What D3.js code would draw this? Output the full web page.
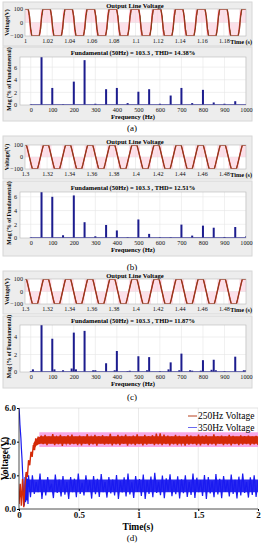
<!DOCTYPE html>
<html>
<head>
<meta charset="utf-8">
<script src="https://cdn.jsdelivr.net/npm/d3@7"></script>
<style>
  body { margin: 0; background: #fff; }
  svg { display: block; font-family: "Liberation Serif", "DejaVu Serif", serif; }
</style>
</head>
<body>
<div id="chart"></div>
<script>
// ---------- data ----------
const timeTicksA  = [1, 1.02, 1.04, 1.06, 1.08, 1.1, 1.12, 1.14, 1.16, 1.18];
const timeTicksBC = [1.3, 1.32, 1.34, 1.36, 1.38, 1.4, 1.42, 1.44, 1.46, 1.48];
const voltTicks   = [-100, 0, 100];

// one 20 ms period of the line voltage (phase 0..1), steady state
const cyclePhaseA = [0, 0.15, 0.19, 0.21, 0.23, 0.26, 0.28, 0.3, 0.65, 0.69, 0.71, 0.73, 0.76, 0.78, 0.8, 1];
const cycleVoltA  = [100, 100, 55, 50, 0, -50, -55, -100, -100, -55, -50, 0, 50, 55, 100, 100];
const refPhaseA   = [0, 0.14, 0.18, 0.22, 0.26, 0.31, 0.64, 0.68, 0.72, 0.76, 0.81, 1];
const refVoltA    = [100, 100, 70, 10, -60, -100, -100, -70, -10, 60, 100, 100];
const cyclePhaseBC = [0, 0.065, 0.12, 0.2, 0.28, 0.335, 0.565, 0.62, 0.7, 0.78, 0.835, 1];
const cycleVoltBC  = [100, 100, 62, 0, -62, -100, -100, -62, 0, 62, 100, 100];
const pulsePhase = [0, 0.2, 0.2, 0.7, 0.7, 1];
const pulseVolt  = [100, 100, -100, -100, 100, 100];
const periods = 10;

// harmonic spectra (% of fundamental)
const harmonicFreq = [0, 50, 100, 150, 200, 250, 300, 350, 400, 450, 500, 550, 600, 650, 700, 750, 800, 850, 900, 950, 1000];
const magA = [0.1, 100, 2.7, 0.1, 3.7, 7.1, 0.2, 2.5, 2.7, 0.3, 2.1, 2.5, 0.2, 1.5, 2.7, 0.3, 2.4, 0.4, 0.2, 0.6, 0.1];
const magB = [0.1, 100, 6.0, 0.4, 6.2, 2.3, 0.25, 1.9, 1.1, 0.1, 2.7, 0.6, 0.1, 0.1, 1.95, 0.35, 1.8, 1.5, 0.15, 1.6, 0.25];
const magC = [0.1, 100, 3.8, 0.2, 4.5, 4.7, 0.2, 1.0, 2.4, 0.1, 1.8, 1.7, 0.1, 1.1, 2.1, 0.15, 1.35, 1.4, 0.1, 1.75, 0.2];
const interFreqC = [10, 110, 190, 210, 290, 390, 460, 540, 640, 690, 740, 790, 840, 860, 990];
const interMagC  = [0.3, 0.3, 0.4, 0.3, 0.2, 0.2, 0.15, 0.2, 0.3, 0.2, 0.2, 0.15, 0.25, 0.2, 0.2];
const freqTicks = [0, 100, 200, 300, 400, 500, 600, 700, 800, 900, 1000];
const magTicksAB = [0, 2, 4, 6];
const magTicksC  = [0, 2, 4];
const thdLabels = ["14.38%", "12.51%", "11.87%"];

// (d) harmonic voltages vs time
const dTimeTicks = [0, 0.5, 1, 1.5, 2];
const dTimeLabels = ["0", "0.5", "1", "1.5", "2"];
const dVoltTicks = [0, 2, 4, 6];
const red250T = [0, 0.01, 0.02, 0.03, 0.04, 0.05, 0.06, 0.07, 0.08, 0.09, 0.1, 0.11, 0.12, 0.13, 0.14, 0.15, 0.16, 0.17];
const red250V = [0.3, 1.5, 0.2, 1.8, 0.1, 1.4, 2.2, 1.9, 2.9, 2.6, 3.4, 3.1, 3.8, 3.5, 4.2, 3.8, 4.3, 3.9];
const red250Steady = [
  4.35, 3.85, 4.4, 3.8, 4.3, 3.9, 4.45, 3.8, 4.25, 3.85, 4.4, 3.75, 4.3, 3.9, 4.38, 3.82, 4.42, 3.86, 4.28, 3.8,
  4.36, 3.78, 4.3, 3.88, 4.44, 3.8, 4.26, 3.84, 4.4, 3.76, 4.32, 3.9, 4.38, 3.82, 4.3, 3.86, 4.46, 3.78, 4.28, 3.84,
  4.4, 3.8, 4.34, 3.88, 4.42, 3.76, 4.3, 3.84, 4.36, 3.8, 4.44, 3.86, 4.28, 3.78, 4.4, 3.82, 4.32, 3.88, 4.38, 3.8,
  4.48, 3.84, 4.5, 3.8, 4.42, 3.86, 4.36, 3.78, 4.3, 3.84, 4.4, 3.8, 4.34, 3.88, 4.28, 3.76, 4.4, 3.82, 4.36, 3.86,
  4.3, 3.8, 4.42, 3.78, 4.34, 3.86, 4.38, 3.8, 4.28, 3.84, 4.44, 3.78, 4.32, 3.88, 4.36, 3.8, 4.3, 3.84, 4.4, 3.78,
  4.34, 3.86, 4.28, 3.8, 4.38, 3.82, 4.32, 3.86, 4.36, 3.8, 4.3, 3.84, 4.34, 3.8
];
const red250CoreT  = [0.12, 0.15, 0.18, 2.0];
const red250CoreLo = [3.5, 3.8, 3.88, 3.88];
const red250CoreHi = [3.9, 4.2, 4.32, 4.32];
const blue350T = [0, 0.004, 0.008, 0.012, 0.016, 0.02, 0.025, 0.03, 0.035, 0.04, 0.045, 0.05, 0.055, 0.06, 0.065, 0.07, 0.075, 0.08];
const blue350V = [6.0, 5.6, 5.0, 4.6, 4.2, 3.6, 3.0, 2.2, 1.4, 0.6, 0.2, 1.9, 0.4, 2.1, 0.5, 1.8, 0.3, 2.0];
const blue350Steady = [
  0.7, 2.0, 0.9, 1.6, 1.0, 2.1, 0.6, 1.7, 0.8, 1.9, 1.1, 1.5, 0.65, 2.05, 0.95, 1.75, 0.75, 1.95, 0.85, 1.6,
  0.6, 1.9, 1.0, 1.8, 0.7, 2.1, 0.9, 1.55, 0.8, 2.0, 1.05, 1.7, 0.62, 1.95, 0.88, 1.8, 0.72, 2.08, 1.0, 1.6,
  0.68, 1.9, 0.92, 1.75, 0.8, 2.02, 0.6, 1.65, 0.98, 1.88, 0.74, 2.1, 0.86, 1.58, 0.66, 1.96, 1.02, 1.78, 0.78, 2.04,
  0.6, 1.7, 0.9, 1.92, 0.7, 2.15, 0.96, 1.62, 0.82, 1.98, 0.64, 1.82, 1.04, 2.06, 0.76, 1.66, 0.88, 1.94, 0.62, 1.76,
  0.94, 2.0, 0.72, 1.6, 0.84, 2.1, 0.66, 1.86, 1.0, 1.7, 0.78, 2.02, 0.6, 1.9, 0.92, 1.64, 0.7, 2.08, 0.86, 1.8,
  0.64, 1.96, 1.02, 1.68, 0.74, 2.04, 0.9, 1.74, 0.62, 1.92, 0.8, 2.1, 0.96, 1.6, 0.68, 1.88, 0.84, 2.0, 0.72, 1.7
];
const blue350CoreT  = [0.08, 2.0];
const blue350CoreLo = [1.0, 1.0];
const blue350CoreHi = [1.75, 1.75];
const pinkBandT  = [0.17, 2.0];
const pinkBandLo = [3.68, 3.68];
const pinkBandHi = [4.56, 4.56];
const legendLabels = ["250Hz Voltage", "350Hz Voltage"];

// ---------- drawing ----------
const W = 264, H = 550;
const svg = d3.select("#chart").append("svg").attr("width", W).attr("height", H);
const defs = svg.append("defs");
let clipId = 0;

function clipFor(p) {
  const id = "clip" + (clipId++);
  defs.append("clipPath").attr("id", id)
      .append("rect").attr("x", p.l).attr("y", p.t).attr("width", p.r - p.l).attr("height", p.b - p.t);
  return `url(#${id})`;
}

function tile(phases, values, t0) {
  const pts = [];
  for (let k = 0; k < periods; k++) {
    phases.forEach((p, i) => pts.push([t0 + (k + p) * 0.02, values[i]]));
  }
  return pts;
}

function styleAxis(g, size, bold) {
  g.select(".domain").remove();
  g.selectAll("text").attr("font-size", size).attr("font-family", "Liberation Serif")
   .attr("font-weight", bold ? "bold" : "normal").attr("fill", "#111");
}

function wavePanel(cfg) {
  const { box, plot, t0, ticks, main, ref } = cfg;
  svg.append("rect").attr("x", box.x).attr("y", box.y).attr("width", box.w).attr("height", box.h)
     .attr("fill", "#ededed").attr("stroke", "#d6d6d6");
  svg.append("rect").attr("x", plot.l).attr("y", plot.t).attr("width", plot.r - plot.l).attr("height", plot.b - plot.t)
     .attr("fill", "#fff");

  const x = d3.scaleLinear().domain([t0, t0 + 0.2]).range([plot.l, plot.r]);
  const y = d3.scaleLinear().domain([-100, 100]).range([plot.b, plot.t]);
  const g = svg.append("g").attr("clip-path", clipFor(plot));

  g.append("g").selectAll("line").data(ticks.slice(1)).join("line")
   .attr("x1", d => x(d)).attr("x2", d => x(d)).attr("y1", plot.t).attr("y2", plot.b)
   .attr("stroke", "#e4e4e4").attr("stroke-width", 0.6);
  g.append("line").attr("x1", plot.l).attr("x2", plot.r).attr("y1", y(0)).attr("y2", y(0))
   .attr("stroke", "#e4e4e4").attr("stroke-width", 0.6);

  const pulse = tile(pulsePhase, pulseVolt, t0);
  g.append("path").datum(pulse)
   .attr("d", d3.area().x(d => x(d[0])).y0(y(0)).y1(d => y(d[1])))
   .attr("fill", "#fbd3df").attr("opacity", 0.7);

  const line = d3.line().x(d => x(d[0])).y(d => y(d[1]));
  g.append("path").datum(tile(ref.p, ref.v, t0)).attr("d", line)
   .attr("fill", "none").attr("stroke", "#e8232b").attr("stroke-width", 1.4);
  g.append("path").datum(tile(main.p, main.v, t0)).attr("d", line)
   .attr("fill", "none").attr("stroke", "#6a4a1a").attr("stroke-width", 0.9);

  svg.append("rect").attr("x", plot.l).attr("y", plot.t).attr("width", plot.r - plot.l).attr("height", plot.b - plot.t)
     .attr("fill", "none").attr("stroke", "#b8b8b8").attr("stroke-width", 0.6);

  const xa = svg.append("g").attr("transform", `translate(0,${plot.b})`)
    .call(d3.axisBottom(x).tickValues(ticks).tickFormat(d3.format("~g")).tickSize(0).tickPadding(3));
  styleAxis(xa, 6.2, false);
  const ya = svg.append("g").attr("transform", `translate(${plot.l},0)`)
    .call(d3.axisLeft(y).tickValues(voltTicks).tickSize(0).tickPadding(2));
  styleAxis(ya, 6.2, false);

  svg.append("text").attr("x", 135).attr("y", plot.t - 1.5).attr("text-anchor", "middle")
     .attr("font-size", 6.6).attr("font-weight", "bold").text("Output Line Voltage");
  svg.append("text").attr("x", 252).attr("y", plot.b + 7.5).attr("text-anchor", "end")
     .attr("font-size", 6.2).attr("font-weight", "bold").text("Time (s)");
  svg.append("text").attr("transform", `translate(9,${(plot.t + plot.b) / 2}) rotate(-90)`)
     .attr("text-anchor", "middle").attr("font-size", 5.8).attr("font-weight", "bold").text("Voltage(V)");
}

function spectrumPanel(cfg) {
  const { box, plot, ymax, mags, yTicks, thd, inter } = cfg;
  svg.append("rect").attr("x", box.x).attr("y", box.y).attr("width", box.w).attr("height", box.h)
     .attr("fill", "#ededed").attr("stroke", "#d6d6d6");
  svg.append("rect").attr("x", plot.l).attr("y", plot.t).attr("width", plot.r - plot.l).attr("height", plot.b - plot.t)
     .attr("fill", "#fff");

  const x = d3.scaleLinear().domain([-50, 1000]).range([plot.l, plot.r]);
  const y = d3.scaleLinear().domain([0, ymax]).range([plot.b, plot.t]);
  const g = svg.append("g").attr("clip-path", clipFor(plot));

  g.append("g").selectAll("line").data(freqTicks).join("line")
   .attr("x1", d => x(d)).attr("x2", d => x(d)).attr("y1", plot.t).attr("y2", plot.b)
   .attr("stroke", "#e6e6e6").attr("stroke-width", 0.6);
  g.append("g").selectAll("line").data(yTicks.slice(1)).join("line")
   .attr("x1", plot.l).attr("x2", plot.r).attr("y1", d => y(d)).attr("y2", d => y(d))
   .attr("stroke", "#e6e6e6").attr("stroke-width", 0.6);

  const bars = harmonicFreq.map((f, i) => ({ f, m: mags[i] }));
  if (inter) inter.f.forEach((f, i) => bars.push({ f, m: inter.m[i] }));
  g.append("line").attr("x1", x(0)).attr("x2", plot.r).attr("y1", plot.b - 0.5).attr("y2", plot.b - 0.5)
   .attr("stroke", "#2a2a9a").attr("stroke-width", 0.8);
  g.selectAll("rect.bar").data(bars).join("rect").attr("class", "bar")
   .attr("x", d => x(d.f) - 1).attr("width", 2)
   .attr("y", d => y(d.m)).attr("height", d => plot.b - y(d.m))
   .attr("fill", "#1c1c8e");

  svg.append("rect").attr("x", plot.l).attr("y", plot.t).attr("width", plot.r - plot.l).attr("height", plot.b - plot.t)
     .attr("fill", "none").attr("stroke", "#b8b8b8").attr("stroke-width", 0.6);

  const xa = svg.append("g").attr("transform", `translate(0,${plot.b})`)
    .call(d3.axisBottom(x).tickValues(freqTicks).tickFormat(d => String(d)).tickSize(0).tickPadding(3));
  styleAxis(xa, 6.2, false);
  const ya = svg.append("g").attr("transform", `translate(${plot.l},0)`)
    .call(d3.axisLeft(y).tickValues(yTicks).tickFormat(d => String(d)).tickSize(0).tickPadding(3));
  styleAxis(ya, 6.2, false);

  svg.append("text").attr("x", 133).attr("y", plot.t - 1.8).attr("text-anchor", "middle")
     .attr("font-size", 6.5).attr("font-weight", "bold")
     .text(`Fundamental (50Hz) = 103.3 , THD= ${thd}`);
  svg.append("text").attr("x", 133).attr("y", plot.b + 14).attr("text-anchor", "middle")
     .attr("font-size", 6.6).attr("font-weight", "bold").text("Frequency (Hz)");
  svg.append("text").attr("transform", `translate(11,${(plot.t + plot.b) / 2 - 2}) rotate(-90)`)
     .attr("text-anchor", "middle").attr("font-size", 5.8).attr("font-weight", "bold")
     .text("Mag (% of Fundamental)");
}

function caption(txt, yb) {
  svg.append("text").attr("x", 132).attr("y", yb).attr("text-anchor", "middle")
     .attr("font-size", 9).text(txt);
}

const mainA = { p: cyclePhaseA, v: cycleVoltA }, refA = { p: refPhaseA, v: refVoltA };
const mainBC = { p: cyclePhaseBC, v: cycleVoltBC };

wavePanel({ box: { x: 3, y: 2, w: 249, h: 44 }, plot: { l: 25, r: 246, t: 9, b: 36 }, t0: 1, ticks: timeTicksA, main: mainA, ref: refA });
spectrumPanel({ box: { x: 3, y: 47, w: 249, h: 74 }, plot: { l: 20, r: 246, t: 57, b: 105 }, ymax: 7.6, mags: magA, yTicks: magTicksAB, thd: thdLabels[0] });
caption("(a)", 131);

wavePanel({ box: { x: 3, y: 136, w: 249, h: 43 }, plot: { l: 25, r: 246, t: 145, b: 169 }, t0: 1.3, ticks: timeTicksBC, main: mainBC, ref: mainBC });
spectrumPanel({ box: { x: 3, y: 181, w: 249, h: 75 }, plot: { l: 20, r: 246, t: 192, b: 238 }, ymax: 6.7, mags: magB, yTicks: magTicksAB, thd: thdLabels[1] });
caption("(b)", 270);

wavePanel({ box: { x: 3, y: 271, w: 249, h: 43 }, plot: { l: 25, r: 246, t: 279, b: 304 }, t0: 1.3, ticks: timeTicksBC, main: mainBC, ref: mainBC });
spectrumPanel({ box: { x: 3, y: 316, w: 249, h: 72 }, plot: { l: 20, r: 246, t: 325, b: 372 }, ymax: 5.37, mags: magC, yTicks: magTicksC, thd: thdLabels[2], inter: { f: interFreqC, m: interMagC } });
caption("(c)", 400);

// ---------- (d) ----------
const pd = { l: 19, r: 258, t: 408, b: 509 };
const xd = d3.scaleLinear().domain([0, 2]).range([pd.l, pd.r]);
const yd = d3.scaleLinear().domain([0, 6]).range([pd.b, pd.t]);
const gd = svg.append("g").attr("clip-path", clipFor({ l: pd.l, r: pd.r, t: pd.t - 1, b: pd.b }));

gd.append("g").selectAll("line").data(dTimeTicks.slice(1)).join("line")
  .attr("x1", d => xd(d)).attr("x2", d => xd(d)).attr("y1", pd.t).attr("y2", pd.b)
  .attr("stroke", "#dcdcdc").attr("stroke-width", 0.6);
svg.append("line").attr("x1", pd.l).attr("x2", pd.r).attr("y1", pd.t).attr("y2", pd.t)
  .attr("stroke", "#d0d0d0").attr("stroke-width", 0.6);

const band = d3.area().x(d => xd(d[0])).y0(d => yd(d[1])).y1(d => yd(d[2]));
const zipBand = (t, lo, hi) => t.map((v, i) => [v, lo[i], hi[i]]);
gd.append("path").datum(zipBand(pinkBandT, pinkBandLo, pinkBandHi)).attr("d", band).attr("fill", "#f7a8e6");

function series(tTrans, vTrans, steady, tEnd) {
  const pts = tTrans.map((t, i) => [t, vTrans[i]]);
  const tStart = tTrans[tTrans.length - 1];
  const step = (tEnd - tStart) / steady.length;
  steady.forEach((v, i) => pts.push([tStart + (i + 1) * step, v]));
  return pts;
}
const lineD = d3.line().x(d => xd(d[0])).y(d => yd(d[1]));
gd.append("path").datum(zipBand(blue350CoreT, blue350CoreLo, blue350CoreHi)).attr("d", band).attr("fill", "#2a2af2");
gd.append("path").datum(series(blue350T, blue350V, blue350Steady, 2)).attr("d", lineD)
  .attr("fill", "none").attr("stroke", "#1a1af0").attr("stroke-width", 1.2);
gd.append("path").datum(zipBand(red250CoreT, red250CoreLo, red250CoreHi)).attr("d", band).attr("fill", "#d42a08");
gd.append("path").datum(series(red250T, red250V, red250Steady, 2)).attr("d", lineD)
  .attr("fill", "none").attr("stroke", "#d42a08").attr("stroke-width", 1.4);

const xda = svg.append("g").attr("transform", `translate(0,${pd.b})`)
  .call(d3.axisBottom(xd).tickValues(dTimeTicks).tickFormat((d, i) => dTimeLabels[i]).tickSize(2).tickPadding(1));
styleAxis(xda, 9, true);
svg.append("line").attr("x1", pd.l).attr("x2", pd.r).attr("y1", pd.b).attr("y2", pd.b).attr("stroke", "#222").attr("stroke-width", 0.8);
const yda = svg.append("g").attr("transform", `translate(${pd.l},0)`)
  .call(d3.axisLeft(yd).tickValues(dVoltTicks).tickSize(2).tickPadding(1));
styleAxis(yda, 9, true);
svg.append("line").attr("x1", pd.l).attr("x2", pd.l).attr("y1", pd.t).attr("y2", pd.b).attr("stroke", "#222").attr("stroke-width", 0.8);

svg.append("text").attr("x", 138).attr("y", 530).attr("text-anchor", "middle")
   .attr("font-size", 9.5).attr("font-weight", "bold").text("Time(s)");
svg.append("text").attr("transform", `translate(8,${(pd.t + pd.b) / 2}) rotate(-90)`)
   .attr("text-anchor", "middle").attr("font-size", 9.5).attr("font-weight", "bold").text("Voltage(V)");

const legendColors = ["#b8401c", "#6a6af0"];
const lg = svg.append("g").selectAll("g").data(legendLabels).join("g")
  .attr("transform", (d, i) => `translate(188,${416 + i * 11.5})`);
lg.append("line").attr("x1", 0).attr("x2", 9).attr("stroke", (d, i) => legendColors[i]).attr("stroke-width", 1);
lg.append("text").attr("x", 10).attr("y", 3).attr("font-size", 9.5).text(d => d);

caption("(d)", 541);
</script>
</body>
</html>
